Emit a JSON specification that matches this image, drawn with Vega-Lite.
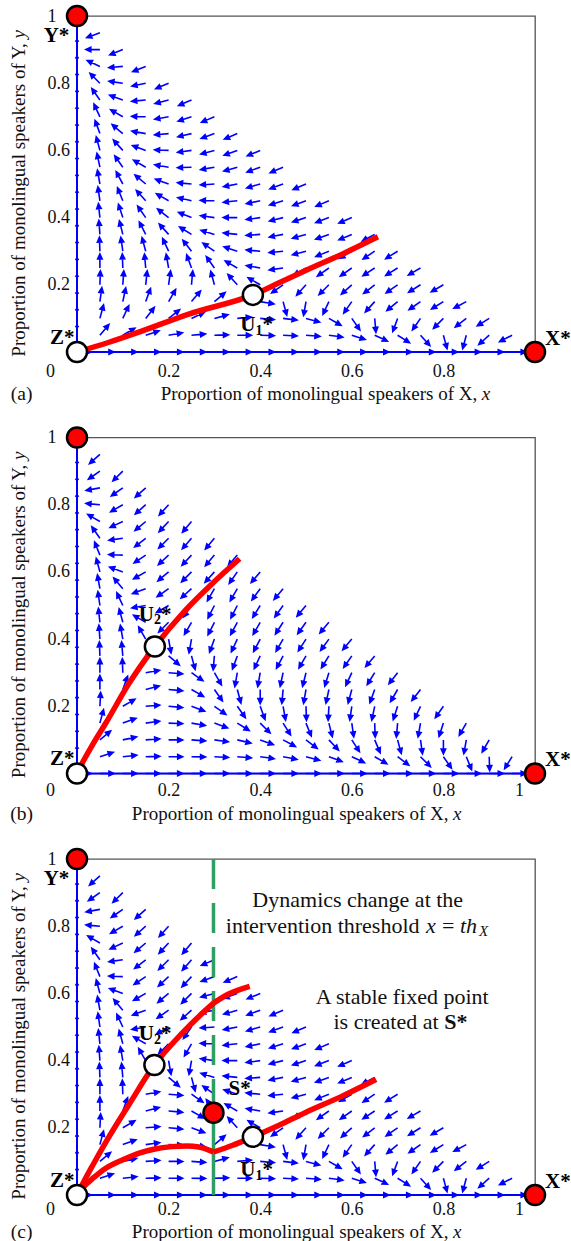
{
"$schema": "https://vega.github.io/schema/vega-lite/v6.json",
"padding": {"left": 9, "top": 0, "right": 5, "bottom": 5},
"autosize": {"type": "pad"},
"bounds": "flush",
"spacing": 85.5,
"config": {
  "view": {"stroke": "#555555", "strokeWidth": 1.3},
  "axis": {"domain": false, "ticks": false, "tickSize": 0, "grid": false, "format": ".1~f", "labelFont": "Liberation Serif", "labelFontSize": 18, "labelColor": "#111111", "labelOverlap": false, "labelFlush": false, "labelBound": false}
},
"datasets": {
"ax": [
{"x":0,"y":0,"a":90},{"x":0.05,"y":0,"a":90},{"x":0.1,"y":0,"a":90},{"x":0.15,"y":0,"a":90},{"x":0.2,"y":0,"a":90},{"x":0.25,"y":0,"a":90},{"x":0.3,"y":0,"a":90},{"x":0.35,"y":0,"a":90},{"x":0.4,"y":0,"a":90},{"x":0.45,"y":0,"a":90},{"x":0.5,"y":0,"a":90},{"x":0.55,"y":0,"a":90},{"x":0.6,"y":0,"a":90},{"x":0.65,"y":0,"a":90},{"x":0.7,"y":0,"a":90},{"x":0.75,"y":0,"a":90},{"x":0.8,"y":0,"a":90},{"x":0.85,"y":0,"a":90},{"x":0.9,"y":0,"a":90},{"x":0.95,"y":0,"a":90},
{"x":0,"y":0.05,"a":0},{"x":0,"y":0.1,"a":0},{"x":0,"y":0.15,"a":0},{"x":0,"y":0.2,"a":0},{"x":0,"y":0.25,"a":0},{"x":0,"y":0.3,"a":0},{"x":0,"y":0.35,"a":0},{"x":0,"y":0.4,"a":0},{"x":0,"y":0.45,"a":0},{"x":0,"y":0.5,"a":0},{"x":0,"y":0.55,"a":0},{"x":0,"y":0.6,"a":0},{"x":0,"y":0.65,"a":0},{"x":0,"y":0.7,"a":0},{"x":0,"y":0.75,"a":0},{"x":0,"y":0.8,"a":0},{"x":0,"y":0.85,"a":0},{"x":0,"y":0.9,"a":0},{"x":0,"y":0.95,"a":0}
],
"fa": [
{"x":0.05,"y":0.95,"a":250},
{"x":0.05,"y":0.9,"a":270},{"x":0.1,"y":0.9,"a":248},
{"x":0.05,"y":0.85,"a":295},{"x":0.1,"y":0.85,"a":265},{"x":0.15,"y":0.85,"a":248},
{"x":0.05,"y":0.8,"a":315},{"x":0.1,"y":0.8,"a":278},{"x":0.15,"y":0.8,"a":258},{"x":0.2,"y":0.8,"a":247},
{"x":0.05,"y":0.75,"a":325},{"x":0.1,"y":0.75,"a":290},{"x":0.15,"y":0.75,"a":265},{"x":0.2,"y":0.75,"a":255},{"x":0.25,"y":0.75,"a":247},
{"x":0.05,"y":0.7,"a":335},{"x":0.1,"y":0.7,"a":300},{"x":0.15,"y":0.7,"a":272},{"x":0.2,"y":0.7,"a":260},{"x":0.25,"y":0.7,"a":252},{"x":0.3,"y":0.7,"a":247},
{"x":0.05,"y":0.65,"a":340},{"x":0.1,"y":0.65,"a":310},{"x":0.15,"y":0.65,"a":280},{"x":0.2,"y":0.65,"a":265},{"x":0.25,"y":0.65,"a":257},{"x":0.3,"y":0.65,"a":250},{"x":0.35,"y":0.65,"a":247},
{"x":0.05,"y":0.6,"a":345},{"x":0.1,"y":0.6,"a":318},{"x":0.15,"y":0.6,"a":290},{"x":0.2,"y":0.6,"a":272},{"x":0.25,"y":0.6,"a":262},{"x":0.3,"y":0.6,"a":255},{"x":0.35,"y":0.6,"a":250},{"x":0.4,"y":0.6,"a":247},
{"x":0.05,"y":0.55,"a":348},{"x":0.1,"y":0.55,"a":325},{"x":0.15,"y":0.55,"a":300},{"x":0.2,"y":0.55,"a":280},{"x":0.25,"y":0.55,"a":268},{"x":0.3,"y":0.55,"a":260},{"x":0.35,"y":0.55,"a":254},{"x":0.4,"y":0.55,"a":250},{"x":0.45,"y":0.55,"a":247},
{"x":0.05,"y":0.5,"a":350},{"x":0.1,"y":0.5,"a":332},{"x":0.15,"y":0.5,"a":310},{"x":0.2,"y":0.5,"a":290},{"x":0.25,"y":0.5,"a":275},{"x":0.3,"y":0.5,"a":266},{"x":0.35,"y":0.5,"a":259},{"x":0.4,"y":0.5,"a":254},{"x":0.45,"y":0.5,"a":250},{"x":0.5,"y":0.5,"a":247},
{"x":0.05,"y":0.45,"a":352},{"x":0.1,"y":0.45,"a":338},{"x":0.15,"y":0.45,"a":318},{"x":0.2,"y":0.45,"a":300},{"x":0.25,"y":0.45,"a":283},{"x":0.3,"y":0.45,"a":272},{"x":0.35,"y":0.45,"a":264},{"x":0.4,"y":0.45,"a":258},{"x":0.45,"y":0.45,"a":253},{"x":0.5,"y":0.45,"a":250},{"x":0.55,"y":0.45,"a":247},
{"x":0.05,"y":0.4,"a":354},{"x":0.1,"y":0.4,"a":342},{"x":0.15,"y":0.4,"a":325},{"x":0.2,"y":0.4,"a":308},{"x":0.25,"y":0.4,"a":292},{"x":0.3,"y":0.4,"a":278},{"x":0.35,"y":0.4,"a":270},{"x":0.4,"y":0.4,"a":262},{"x":0.45,"y":0.4,"a":256},{"x":0.5,"y":0.4,"a":252},{"x":0.55,"y":0.4,"a":249},{"x":0.6,"y":0.4,"a":247},
{"x":0.05,"y":0.35,"a":356},{"x":0.1,"y":0.35,"a":346},{"x":0.15,"y":0.35,"a":333},{"x":0.2,"y":0.35,"a":318},{"x":0.25,"y":0.35,"a":302},{"x":0.3,"y":0.35,"a":287},{"x":0.35,"y":0.35,"a":276},{"x":0.4,"y":0.35,"a":266},{"x":0.45,"y":0.35,"a":259},{"x":0.5,"y":0.35,"a":254},{"x":0.55,"y":0.35,"a":250},{"x":0.6,"y":0.35,"a":247},{"x":0.65,"y":0.35,"a":242},
{"x":0.05,"y":0.3,"a":358},{"x":0.1,"y":0.3,"a":352},{"x":0.15,"y":0.3,"a":345},{"x":0.2,"y":0.3,"a":335},{"x":0.25,"y":0.3,"a":322},{"x":0.3,"y":0.3,"a":305},{"x":0.35,"y":0.3,"a":288},{"x":0.4,"y":0.3,"a":275},{"x":0.45,"y":0.3,"a":264},{"x":0.5,"y":0.3,"a":255},{"x":0.55,"y":0.3,"a":248},{"x":0.6,"y":0.3,"a":240},{"x":0.65,"y":0.3,"a":236},{"x":0.7,"y":0.3,"a":238},
{"x":0.05,"y":0.25,"a":0},{"x":0.1,"y":0.25,"a":358},{"x":0.15,"y":0.25,"a":355},{"x":0.2,"y":0.25,"a":350},{"x":0.25,"y":0.25,"a":340},{"x":0.3,"y":0.25,"a":325},{"x":0.35,"y":0.25,"a":300},{"x":0.4,"y":0.25,"a":280},{"x":0.45,"y":0.25,"a":262},{"x":0.5,"y":0.25,"a":240},{"x":0.55,"y":0.25,"a":235},{"x":0.6,"y":0.25,"a":235},{"x":0.65,"y":0.25,"a":237},{"x":0.7,"y":0.25,"a":238},{"x":0.75,"y":0.25,"a":240},
{"x":0.05,"y":0.2,"a":2},{"x":0.1,"y":0.2,"a":4},{"x":0.15,"y":0.2,"a":6},{"x":0.2,"y":0.2,"a":8},{"x":0.25,"y":0.2,"a":5},{"x":0.3,"y":0.2,"a":345},{"x":0.35,"y":0.2,"a":318},{"x":0.4,"y":0.2,"a":300},{"x":0.45,"y":0.2,"a":235},{"x":0.5,"y":0.2,"a":222},{"x":0.55,"y":0.2,"a":225},{"x":0.6,"y":0.2,"a":228},{"x":0.65,"y":0.2,"a":232},{"x":0.7,"y":0.2,"a":235},{"x":0.75,"y":0.2,"a":238},{"x":0.8,"y":0.2,"a":240},
{"x":0.05,"y":0.15,"a":8},{"x":0.1,"y":0.15,"a":12},{"x":0.15,"y":0.15,"a":20},{"x":0.2,"y":0.15,"a":30},{"x":0.25,"y":0.15,"a":40},{"x":0.3,"y":0.15,"a":50},{"x":0.35,"y":0.15,"a":62},{"x":0.4,"y":0.15,"a":100},{"x":0.45,"y":0.15,"a":165},{"x":0.5,"y":0.15,"a":190},{"x":0.55,"y":0.15,"a":205},{"x":0.6,"y":0.15,"a":215},{"x":0.65,"y":0.15,"a":222},{"x":0.7,"y":0.15,"a":230},{"x":0.75,"y":0.15,"a":235},{"x":0.8,"y":0.15,"a":238},{"x":0.85,"y":0.15,"a":242},
{"x":0.05,"y":0.1,"a":15},{"x":0.1,"y":0.1,"a":25},{"x":0.15,"y":0.1,"a":38},{"x":0.2,"y":0.1,"a":52},{"x":0.25,"y":0.1,"a":65},{"x":0.3,"y":0.1,"a":75},{"x":0.35,"y":0.1,"a":85},{"x":0.4,"y":0.1,"a":95},{"x":0.45,"y":0.1,"a":97},{"x":0.5,"y":0.1,"a":105},{"x":0.55,"y":0.1,"a":120},{"x":0.6,"y":0.1,"a":145},{"x":0.65,"y":0.1,"a":175},{"x":0.7,"y":0.1,"a":200},{"x":0.75,"y":0.1,"a":215},{"x":0.8,"y":0.1,"a":225},{"x":0.85,"y":0.1,"a":232},{"x":0.9,"y":0.1,"a":238},
{"x":0.05,"y":0.05,"a":40},{"x":0.1,"y":0.05,"a":60},{"x":0.15,"y":0.05,"a":72},{"x":0.2,"y":0.05,"a":80},{"x":0.25,"y":0.05,"a":85},{"x":0.3,"y":0.05,"a":88},{"x":0.35,"y":0.05,"a":90},{"x":0.4,"y":0.05,"a":92},{"x":0.45,"y":0.05,"a":93},{"x":0.5,"y":0.05,"a":95},{"x":0.55,"y":0.05,"a":98},{"x":0.6,"y":0.05,"a":108},{"x":0.65,"y":0.05,"a":115},{"x":0.7,"y":0.05,"a":122},{"x":0.75,"y":0.05,"a":138},{"x":0.8,"y":0.05,"a":165},{"x":0.85,"y":0.05,"a":195},{"x":0.9,"y":0.05,"a":228},{"x":0.95,"y":0.05,"a":243}
],
"fb": [
{"x":0.05,"y":0.95,"a":228},
{"x":0.05,"y":0.9,"a":235},{"x":0.1,"y":0.9,"a":225},
{"x":0.05,"y":0.85,"a":260},{"x":0.1,"y":0.85,"a":235},{"x":0.15,"y":0.85,"a":228},
{"x":0.05,"y":0.8,"a":275},{"x":0.1,"y":0.8,"a":240},{"x":0.15,"y":0.8,"a":228},{"x":0.2,"y":0.8,"a":222},
{"x":0.05,"y":0.75,"a":300},{"x":0.1,"y":0.75,"a":245},{"x":0.15,"y":0.75,"a":230},{"x":0.2,"y":0.75,"a":223},{"x":0.25,"y":0.75,"a":220},
{"x":0.05,"y":0.7,"a":325},{"x":0.1,"y":0.7,"a":262},{"x":0.15,"y":0.7,"a":232},{"x":0.2,"y":0.7,"a":225},{"x":0.25,"y":0.7,"a":221},{"x":0.3,"y":0.7,"a":220},
{"x":0.05,"y":0.65,"a":338},{"x":0.1,"y":0.65,"a":272},{"x":0.15,"y":0.65,"a":236},{"x":0.2,"y":0.65,"a":227},{"x":0.25,"y":0.65,"a":223},{"x":0.3,"y":0.65,"a":220},{"x":0.35,"y":0.65,"a":220},
{"x":0.05,"y":0.6,"a":345},{"x":0.1,"y":0.6,"a":290},{"x":0.15,"y":0.6,"a":240},{"x":0.2,"y":0.6,"a":230},{"x":0.25,"y":0.6,"a":225},{"x":0.3,"y":0.6,"a":222},{"x":0.35,"y":0.6,"a":215},{"x":0.4,"y":0.6,"a":220},
{"x":0.05,"y":0.55,"a":350},{"x":0.1,"y":0.55,"a":320},{"x":0.15,"y":0.55,"a":250},{"x":0.2,"y":0.55,"a":235},{"x":0.25,"y":0.55,"a":228},{"x":0.3,"y":0.55,"a":210},{"x":0.35,"y":0.55,"a":210},{"x":0.4,"y":0.55,"a":216},{"x":0.45,"y":0.55,"a":220},
{"x":0.05,"y":0.5,"a":352},{"x":0.1,"y":0.5,"a":335},{"x":0.15,"y":0.5,"a":260},{"x":0.2,"y":0.5,"a":240},{"x":0.25,"y":0.5,"a":215},{"x":0.3,"y":0.5,"a":207},{"x":0.35,"y":0.5,"a":207},{"x":0.4,"y":0.5,"a":212},{"x":0.45,"y":0.5,"a":216},{"x":0.5,"y":0.5,"a":220},
{"x":0.05,"y":0.45,"a":354},{"x":0.1,"y":0.45,"a":345},{"x":0.15,"y":0.45,"a":300},{"x":0.2,"y":0.45,"a":225},{"x":0.25,"y":0.45,"a":210},{"x":0.3,"y":0.45,"a":207},{"x":0.35,"y":0.45,"a":208},{"x":0.4,"y":0.45,"a":210},{"x":0.45,"y":0.45,"a":213},{"x":0.5,"y":0.45,"a":216},{"x":0.55,"y":0.45,"a":220},
{"x":0.05,"y":0.4,"a":356},{"x":0.1,"y":0.4,"a":350},{"x":0.15,"y":0.4,"a":330},{"x":0.2,"y":0.4,"a":170},{"x":0.25,"y":0.4,"a":190},{"x":0.3,"y":0.4,"a":200},{"x":0.35,"y":0.4,"a":205},{"x":0.4,"y":0.4,"a":208},{"x":0.45,"y":0.4,"a":210},{"x":0.5,"y":0.4,"a":213},{"x":0.55,"y":0.4,"a":216},{"x":0.6,"y":0.4,"a":220},
{"x":0.05,"y":0.35,"a":358},{"x":0.1,"y":0.35,"a":355},{"x":0.15,"y":0.35,"a":20},{"x":0.2,"y":0.35,"a":130},{"x":0.25,"y":0.35,"a":165},{"x":0.3,"y":0.35,"a":185},{"x":0.35,"y":0.35,"a":200},{"x":0.4,"y":0.35,"a":205},{"x":0.45,"y":0.35,"a":208},{"x":0.5,"y":0.35,"a":210},{"x":0.55,"y":0.35,"a":212},{"x":0.6,"y":0.35,"a":215},{"x":0.65,"y":0.35,"a":220},
{"x":0.05,"y":0.3,"a":0},{"x":0.1,"y":0.3,"a":358},{"x":0.15,"y":0.3,"a":80},{"x":0.2,"y":0.3,"a":95},{"x":0.25,"y":0.3,"a":125},{"x":0.3,"y":0.3,"a":150},{"x":0.35,"y":0.3,"a":190},{"x":0.4,"y":0.3,"a":190},{"x":0.45,"y":0.3,"a":192},{"x":0.5,"y":0.3,"a":194},{"x":0.55,"y":0.3,"a":197},{"x":0.6,"y":0.3,"a":205},{"x":0.65,"y":0.3,"a":212},{"x":0.7,"y":0.3,"a":218},
{"x":0.05,"y":0.25,"a":0},{"x":0.1,"y":0.25,"a":20},{"x":0.15,"y":0.25,"a":75},{"x":0.2,"y":0.25,"a":95},{"x":0.25,"y":0.25,"a":120},{"x":0.3,"y":0.25,"a":145},{"x":0.35,"y":0.25,"a":165},{"x":0.4,"y":0.25,"a":180},{"x":0.45,"y":0.25,"a":185},{"x":0.5,"y":0.25,"a":190},{"x":0.55,"y":0.25,"a":192},{"x":0.6,"y":0.25,"a":195},{"x":0.65,"y":0.25,"a":200},{"x":0.7,"y":0.25,"a":210},{"x":0.75,"y":0.25,"a":218},
{"x":0.05,"y":0.2,"a":3},{"x":0.1,"y":0.2,"a":60},{"x":0.15,"y":0.2,"a":85},{"x":0.2,"y":0.2,"a":95},{"x":0.25,"y":0.2,"a":110},{"x":0.3,"y":0.2,"a":125},{"x":0.35,"y":0.2,"a":145},{"x":0.4,"y":0.2,"a":160},{"x":0.45,"y":0.2,"a":170},{"x":0.5,"y":0.2,"a":178},{"x":0.55,"y":0.2,"a":183},{"x":0.6,"y":0.2,"a":188},{"x":0.65,"y":0.2,"a":192},{"x":0.7,"y":0.2,"a":198},{"x":0.75,"y":0.2,"a":205},{"x":0.8,"y":0.2,"a":215},
{"x":0.05,"y":0.15,"a":15},{"x":0.1,"y":0.15,"a":70},{"x":0.15,"y":0.15,"a":82},{"x":0.2,"y":0.15,"a":92},{"x":0.25,"y":0.15,"a":100},{"x":0.3,"y":0.15,"a":110},{"x":0.35,"y":0.15,"a":122},{"x":0.4,"y":0.15,"a":135},{"x":0.45,"y":0.15,"a":148},{"x":0.5,"y":0.15,"a":158},{"x":0.55,"y":0.15,"a":166},{"x":0.6,"y":0.15,"a":172},{"x":0.65,"y":0.15,"a":178},{"x":0.7,"y":0.15,"a":185},{"x":0.75,"y":0.15,"a":190},{"x":0.8,"y":0.15,"a":198},{"x":0.85,"y":0.15,"a":210},
{"x":0.05,"y":0.1,"a":50},{"x":0.1,"y":0.1,"a":78},{"x":0.15,"y":0.1,"a":86},{"x":0.2,"y":0.1,"a":90},{"x":0.25,"y":0.1,"a":94},{"x":0.3,"y":0.1,"a":98},{"x":0.35,"y":0.1,"a":103},{"x":0.4,"y":0.1,"a":110},{"x":0.45,"y":0.1,"a":118},{"x":0.5,"y":0.1,"a":127},{"x":0.55,"y":0.1,"a":137},{"x":0.6,"y":0.1,"a":147},{"x":0.65,"y":0.1,"a":157},{"x":0.7,"y":0.1,"a":165},{"x":0.75,"y":0.1,"a":172},{"x":0.8,"y":0.1,"a":180},{"x":0.85,"y":0.1,"a":190},{"x":0.9,"y":0.1,"a":210},
{"x":0.05,"y":0.05,"a":72},{"x":0.1,"y":0.05,"a":84},{"x":0.15,"y":0.05,"a":88},{"x":0.2,"y":0.05,"a":90},{"x":0.25,"y":0.05,"a":91},{"x":0.3,"y":0.05,"a":93},{"x":0.35,"y":0.05,"a":95},{"x":0.4,"y":0.05,"a":98},{"x":0.45,"y":0.05,"a":101},{"x":0.5,"y":0.05,"a":105},{"x":0.55,"y":0.05,"a":110},{"x":0.6,"y":0.05,"a":115},{"x":0.65,"y":0.05,"a":120},{"x":0.7,"y":0.05,"a":127},{"x":0.75,"y":0.05,"a":135},{"x":0.8,"y":0.05,"a":145},{"x":0.85,"y":0.05,"a":158},{"x":0.9,"y":0.05,"a":178},{"x":0.95,"y":0.05,"a":212}
],
"edges": [{"x":0,"y":0,"x2":1,"y2":0},{"x":0,"y":0,"x2":0,"y2":1}]
},
"vconcat": [
{
 "width": 458, "height": 336,
 "encoding": {
  "x": {"field": "x", "type": "quantitative", "scale": {"domain": [0, 1], "nice": false, "zero": false}, "axis": {"title": null, "values": [0, 0.2, 0.4, 0.6, 0.8], "labelPadding": 10, "labelOffset": {"condition": {"test": "datum.value == 0", "value": -27}, "value": 0}}},
  "y": {"field": "y", "type": "quantitative", "scale": {"domain": [0, 1], "nice": false, "zero": false}, "axis": {"title": null, "values": [0.2, 0.4, 0.6, 0.8, 1], "labelAlign": "left", "labelPadding": 30}}
 },
 "layer": [
  {"data": {"name": "ax"}, "transform": [{"filter": "datum.y == 0"}], "mark": {"type": "point", "shape": "M0,0L0,-1.4M-0.32,-1.3L0,-2L0.32,-1.3Z", "filled": true, "fill": "#0000ff", "stroke": "#0000ff", "strokeWidth": 1.6, "size": 196, "opacity": 1}, "encoding": {"angle": {"field": "a", "type": "quantitative", "scale": null}}},
  {"data": {"name": "ax"}, "transform": [{"filter": "datum.x == 0 && datum.y > 0"}], "mark": {"type": "point", "shape": "M0,0L0,-1.4M-0.3,-1.5L0,-2L0.3,-1.5Z", "filled": true, "fill": "#0000ff", "stroke": "#0000ff", "strokeWidth": 1, "size": 120, "opacity": 1}, "encoding": {"angle": {"field": "a", "type": "quantitative", "scale": null}}},
  {"data": {"name": "fa"}, "mark": {"type": "point", "shape": "M0,0L0,-1.4M-0.32,-1.3L0,-2L0.32,-1.3Z", "filled": true, "fill": "#0000ff", "stroke": "#0000ff", "strokeWidth": 1.6, "size": 196, "opacity": 1}, "encoding": {"angle": {"field": "a", "type": "quantitative", "scale": null}}},
  {"data": {"name": "edges"}, "mark": {"type": "rule", "color": "#0000ff", "strokeWidth": 2}, "encoding": {"x2": {"field": "x2"}, "y2": {"field": "y2"}}},
  {"data": {"values": [{"x":0,"y":0},{"x":0.07,"y":0.029},{"x":0.135,"y":0.059},{"x":0.244,"y":0.113},{"x":0.384,"y":0.17},{"x":0.44,"y":0.205},{"x":0.498,"y":0.242},{"x":0.58,"y":0.292},{"x":0.657,"y":0.343}]}, "mark": {"type": "line", "color": "#ff0000", "strokeWidth": 5.5, "strokeCap": "butt", "interpolate": "monotone"}},
  {"data": {"values": [{"x":0,"y":1},{"x":1,"y":0}]}, "mark": {"type": "point", "shape": "circle", "filled": true, "fill": "#ff0000", "stroke": "#000000", "strokeWidth": 2.5, "size": 400, "opacity": 1}},
  {"data": {"values": [{"x":0,"y":0},{"x":0.384,"y":0.17}]}, "mark": {"type": "point", "shape": "circle", "filled": true, "fill": "#ffffff", "stroke": "#000000", "strokeWidth": 2.5, "size": 400, "opacity": 1}},
  {"data": {"values": [{"x":-0.0727,"y":0.94,"t":"Y*"},{"x":-0.059,"y":0.043,"t":"Z*"},{"x":1.0218,"y":0.04,"t":"X*"},{"x":0.3566,"y":0.079,"t":"U"},{"x":0.405,"y":0.079,"t":"*"}]}, "mark": {"type": "text", "font": "Liberation Serif", "fontSize": 21, "fontWeight": "bold", "align": "left", "baseline": "middle", "color": "#000000"}, "encoding": {"text": {"field": "t"}}},
  {"data": {"values": [{"x":0.3897,"y":0.062,"t":"1"}]}, "mark": {"type": "text", "font": "Liberation Serif", "fontSize": 14, "fontWeight": "bold", "align": "left", "baseline": "middle", "color": "#000000"}, "encoding": {"text": {"field": "t"}}},
  {"data": {"values": [{"x":0.874,"y":-0.125,"t":"Proportion of monolingual speakers of X,"}]}, "mark": {"type": "text", "font": "Liberation Serif", "fontSize": 19, "align": "right", "baseline": "middle", "color": "#111111"}, "encoding": {"text": {"field": "t"}}},
  {"data": {"values": [{"x":0.884,"y":-0.125,"t":"x"}]}, "mark": {"type": "text", "font": "Liberation Serif", "fontSize": 19, "fontStyle": "italic", "align": "left", "baseline": "middle", "color": "#111111"}, "encoding": {"text": {"field": "t"}}},
  {"data": {"values": [{"x":-0.121,"y":-0.125,"t":"(a)"}]}, "mark": {"type": "text", "font": "Liberation Serif", "fontSize": 19.5, "align": "center", "baseline": "middle", "color": "#111111"}, "encoding": {"text": {"field": "t"}}},
  {"data": {"values": [{"x":-0.127,"y":0.919,"t":"Proportion of monolingual speakers of Y,"}]}, "mark": {"type": "text", "font": "Liberation Serif", "fontSize": 19, "angle": 270, "align": "right", "baseline": "middle", "color": "#111111"}, "encoding": {"text": {"field": "t"}}},
  {"data": {"values": [{"x":-0.127,"y":0.933,"t":"y"}]}, "mark": {"type": "text", "font": "Liberation Serif", "fontSize": 19, "fontStyle": "italic", "angle": 270, "align": "left", "baseline": "middle", "color": "#111111"}, "encoding": {"text": {"field": "t"}}}
 ]
},
{
 "width": 458, "height": 336,
 "encoding": {
  "x": {"field": "x", "type": "quantitative", "scale": {"domain": [0, 1], "nice": false, "zero": false}, "axis": {"title": null, "values": [0, 0.2, 0.4, 0.6, 0.8, 1], "labelPadding": 8, "labelOffset": {"condition": [{"test": "datum.value == 0", "value": -27}, {"test": "datum.value == 1", "value": -16}], "value": 0}}},
  "y": {"field": "y", "type": "quantitative", "scale": {"domain": [0, 1], "nice": false, "zero": false}, "axis": {"title": null, "values": [0.2, 0.4, 0.6, 0.8, 1], "labelAlign": "left", "labelPadding": 30}}
 },
 "layer": [
  {"data": {"name": "ax"}, "transform": [{"filter": "datum.y == 0"}], "mark": {"type": "point", "shape": "M0,0L0,-1.4M-0.32,-1.3L0,-2L0.32,-1.3Z", "filled": true, "fill": "#0000ff", "stroke": "#0000ff", "strokeWidth": 1.6, "size": 196, "opacity": 1}, "encoding": {"angle": {"field": "a", "type": "quantitative", "scale": null}}},
  {"data": {"name": "ax"}, "transform": [{"filter": "datum.x == 0 && datum.y > 0"}], "mark": {"type": "point", "shape": "M0,0L0,-1.4M-0.3,-1.5L0,-2L0.3,-1.5Z", "filled": true, "fill": "#0000ff", "stroke": "#0000ff", "strokeWidth": 1, "size": 120, "opacity": 1}, "encoding": {"angle": {"field": "a", "type": "quantitative", "scale": null}}},
  {"data": {"name": "fb"}, "mark": {"type": "point", "shape": "M0,0L0,-1.4M-0.32,-1.3L0,-2L0.32,-1.3Z", "filled": true, "fill": "#0000ff", "stroke": "#0000ff", "strokeWidth": 1.6, "size": 196, "opacity": 1}, "encoding": {"angle": {"field": "a", "type": "quantitative", "scale": null}}},
  {"data": {"name": "edges"}, "mark": {"type": "rule", "color": "#0000ff", "strokeWidth": 2}, "encoding": {"x2": {"field": "x2"}, "y2": {"field": "y2"}}},
  {"data": {"values": [{"x":0,"y":0},{"x":0.015,"y":0.04},{"x":0.035,"y":0.088},{"x":0.062,"y":0.148},{"x":0.113,"y":0.267},{"x":0.17,"y":0.378},{"x":0.236,"y":0.485},{"x":0.295,"y":0.565},{"x":0.355,"y":0.639}]}, "mark": {"type": "line", "color": "#ff0000", "strokeWidth": 5.5, "strokeCap": "butt", "interpolate": "monotone"}},
  {"data": {"values": [{"x":0,"y":1},{"x":1,"y":0}]}, "mark": {"type": "point", "shape": "circle", "filled": true, "fill": "#ff0000", "stroke": "#000000", "strokeWidth": 2.5, "size": 400, "opacity": 1}},
  {"data": {"values": [{"x":0,"y":0},{"x":0.17,"y":0.378}]}, "mark": {"type": "point", "shape": "circle", "filled": true, "fill": "#ffffff", "stroke": "#000000", "strokeWidth": 2.5, "size": 400, "opacity": 1}},
  {"data": {"values": [{"x":-0.059,"y":0.043,"t":"Z*"},{"x":1.0218,"y":0.04,"t":"X*"},{"x":0.1347,"y":0.473,"t":"U"},{"x":0.1832,"y":0.473,"t":"*"}]}, "mark": {"type": "text", "font": "Liberation Serif", "fontSize": 21, "fontWeight": "bold", "align": "left", "baseline": "middle", "color": "#000000"}, "encoding": {"text": {"field": "t"}}},
  {"data": {"values": [{"x":0.168,"y":0.456,"t":"2"}]}, "mark": {"type": "text", "font": "Liberation Serif", "fontSize": 14, "fontWeight": "bold", "align": "left", "baseline": "middle", "color": "#000000"}, "encoding": {"text": {"field": "t"}}},
  {"data": {"values": [{"x":0.811,"y":-0.12,"t":"Proportion of monolingual speakers of X,"}]}, "mark": {"type": "text", "font": "Liberation Serif", "fontSize": 19, "align": "right", "baseline": "middle", "color": "#111111"}, "encoding": {"text": {"field": "t"}}},
  {"data": {"values": [{"x":0.821,"y":-0.12,"t":"x"}]}, "mark": {"type": "text", "font": "Liberation Serif", "fontSize": 19, "fontStyle": "italic", "align": "left", "baseline": "middle", "color": "#111111"}, "encoding": {"text": {"field": "t"}}},
  {"data": {"values": [{"x":-0.121,"y":-0.12,"t":"(b)"}]}, "mark": {"type": "text", "font": "Liberation Serif", "fontSize": 19.5, "align": "center", "baseline": "middle", "color": "#111111"}, "encoding": {"text": {"field": "t"}}},
  {"data": {"values": [{"x":-0.127,"y":0.919,"t":"Proportion of monolingual speakers of Y,"}]}, "mark": {"type": "text", "font": "Liberation Serif", "fontSize": 19, "angle": 270, "align": "right", "baseline": "middle", "color": "#111111"}, "encoding": {"text": {"field": "t"}}},
  {"data": {"values": [{"x":-0.127,"y":0.933,"t":"y"}]}, "mark": {"type": "text", "font": "Liberation Serif", "fontSize": 19, "fontStyle": "italic", "angle": 270, "align": "left", "baseline": "middle", "color": "#111111"}, "encoding": {"text": {"field": "t"}}}
 ]
},
{
 "width": 458, "height": 336,
 "encoding": {
  "x": {"field": "x", "type": "quantitative", "scale": {"domain": [0, 1], "nice": false, "zero": false}, "axis": {"title": null, "values": [0, 0.2, 0.4, 0.6, 0.8, 1], "labelPadding": 5, "labelOffset": {"condition": [{"test": "datum.value == 0", "value": -27}, {"test": "datum.value == 1", "value": -16}], "value": 0}}},
  "y": {"field": "y", "type": "quantitative", "scale": {"domain": [0, 1], "nice": false, "zero": false}, "axis": {"title": null, "values": [0.2, 0.4, 0.6, 0.8, 1], "labelAlign": "left", "labelPadding": 30}}
 },
 "layer": [
  {"data": {"name": "ax"}, "transform": [{"filter": "datum.y == 0"}], "mark": {"type": "point", "shape": "M0,0L0,-1.4M-0.32,-1.3L0,-2L0.32,-1.3Z", "filled": true, "fill": "#0000ff", "stroke": "#0000ff", "strokeWidth": 1.6, "size": 196, "opacity": 1}, "encoding": {"angle": {"field": "a", "type": "quantitative", "scale": null}}},
  {"data": {"name": "ax"}, "transform": [{"filter": "datum.x == 0 && datum.y > 0"}], "mark": {"type": "point", "shape": "M0,0L0,-1.4M-0.3,-1.5L0,-2L0.3,-1.5Z", "filled": true, "fill": "#0000ff", "stroke": "#0000ff", "strokeWidth": 1, "size": 120, "opacity": 1}, "encoding": {"angle": {"field": "a", "type": "quantitative", "scale": null}}},
  {"data": {"name": "fb"}, "transform": [{"filter": "datum.x < 0.29"}], "mark": {"type": "point", "shape": "M0,0L0,-1.4M-0.32,-1.3L0,-2L0.32,-1.3Z", "filled": true, "fill": "#0000ff", "stroke": "#0000ff", "strokeWidth": 1.6, "size": 196, "opacity": 1}, "encoding": {"angle": {"field": "a", "type": "quantitative", "scale": null}}},
  {"data": {"name": "fa"}, "transform": [{"filter": "datum.x > 0.29"}], "mark": {"type": "point", "shape": "M0,0L0,-1.4M-0.32,-1.3L0,-2L0.32,-1.3Z", "filled": true, "fill": "#0000ff", "stroke": "#0000ff", "strokeWidth": 1.6, "size": 196, "opacity": 1}, "encoding": {"angle": {"field": "a", "type": "quantitative", "scale": null}}},
  {"data": {"name": "edges"}, "mark": {"type": "rule", "color": "#0000ff", "strokeWidth": 2}, "encoding": {"x2": {"field": "x2"}, "y2": {"field": "y2"}}},
  {"data": {"values": [{"x":0.298,"y":1,"x2":0.298,"y2":0.245}]}, "mark": {"type": "rule", "color": "#2e9e62", "strokeWidth": 3.5, "strokeDash": [30, 14]}, "encoding": {"x2": {"field": "x2"}, "y2": {"field": "y2"}}},
  {"data": {"values": [{"x":0.298,"y":0.245,"x2":0.298,"y2":0}]}, "mark": {"type": "rule", "color": "#2e9e62", "strokeWidth": 3.5}, "encoding": {"x2": {"field": "x2"}, "y2": {"field": "y2"}}},
  {"data": {"values": [{"x":0,"y":0,"c":"u1"},{"x":0.015,"y":0.04,"c":"u1"},{"x":0.035,"y":0.09,"c":"u1"},{"x":0.062,"y":0.155,"c":"u1"},{"x":0.113,"y":0.268,"c":"u1"},{"x":0.169,"y":0.387,"c":"u1"},{"x":0.229,"y":0.481,"c":"u1"},{"x":0.265,"y":0.53,"c":"u1"},{"x":0.298,"y":0.571,"c":"u1"},
    {"x":0.298,"y":0.571,"c":"u2"},{"x":0.331,"y":0.598,"c":"u2"},{"x":0.377,"y":0.621,"c":"u2"},
    {"x":0,"y":0,"c":"l1"},{"x":0.015,"y":0.025,"c":"l1"},{"x":0.035,"y":0.05,"c":"l1"},{"x":0.062,"y":0.079,"c":"l1"},{"x":0.1,"y":0.105,"c":"l1"},{"x":0.134,"y":0.124,"c":"l1"},{"x":0.17,"y":0.137,"c":"l1"},{"x":0.207,"y":0.144,"c":"l1"},{"x":0.24,"y":0.146,"c":"l1"},{"x":0.266,"y":0.143,"c":"l1"},{"x":0.298,"y":0.128,"c":"l1"},
    {"x":0.298,"y":0.128,"c":"l2"},{"x":0.34,"y":0.148,"c":"l2"},{"x":0.384,"y":0.173,"c":"l2"},{"x":0.44,"y":0.207,"c":"l2"},{"x":0.498,"y":0.245,"c":"l2"},{"x":0.58,"y":0.295,"c":"l2"},{"x":0.653,"y":0.344,"c":"l2"}]}, "mark": {"type": "line", "color": "#ff0000", "strokeWidth": 5.5, "strokeCap": "butt", "interpolate": "monotone"}, "encoding": {"detail": {"field": "c"}}},
  {"data": {"values": [{"x":0,"y":1},{"x":1,"y":0},{"x":0.298,"y":0.245}]}, "mark": {"type": "point", "shape": "circle", "filled": true, "fill": "#ff0000", "stroke": "#000000", "strokeWidth": 2.5, "size": 400, "opacity": 1}},
  {"data": {"values": [{"x":0,"y":0},{"x":0.169,"y":0.387},{"x":0.384,"y":0.173}]}, "mark": {"type": "point", "shape": "circle", "filled": true, "fill": "#ffffff", "stroke": "#000000", "strokeWidth": 2.5, "size": 400, "opacity": 1}},
  {"data": {"values": [{"x":-0.0727,"y":0.94,"t":"Y*"},{"x":-0.059,"y":0.043,"t":"Z*"},{"x":1.0218,"y":0.04,"t":"X*"},{"x":0.1347,"y":0.478,"t":"U"},{"x":0.1832,"y":0.478,"t":"*"},{"x":0.3566,"y":0.074,"t":"U"},{"x":0.405,"y":0.074,"t":"*"},{"x":0.331,"y":0.314,"t":"S*"}]}, "mark": {"type": "text", "font": "Liberation Serif", "fontSize": 21, "fontWeight": "bold", "align": "left", "baseline": "middle", "color": "#000000"}, "encoding": {"text": {"field": "t"}}},
  {"data": {"values": [{"x":0.168,"y":0.461,"t":"2"},{"x":0.3897,"y":0.057,"t":"1"}]}, "mark": {"type": "text", "font": "Liberation Serif", "fontSize": 14, "fontWeight": "bold", "align": "left", "baseline": "middle", "color": "#000000"}, "encoding": {"text": {"field": "t"}}},
  {"data": {"values": [{"x":0.3829,"y":0.877,"t":"Dynamics change at the"},{"x":0.325,"y":0.801,"t":"intervention threshold"},{"x":0.797,"y":0.801,"t":"="},{"x":0.5214,"y":0.589,"t":"A stable fixed point"},{"x":0.56,"y":0.515,"t":"is created at"}]}, "mark": {"type": "text", "font": "Liberation Serif", "fontSize": 22, "align": "left", "baseline": "middle", "color": "#111111"}, "encoding": {"text": {"field": "t"}}},
  {"data": {"values": [{"x":0.762,"y":0.801,"t":"x"},{"x":0.836,"y":0.801,"t":"th"}]}, "mark": {"type": "text", "font": "Liberation Serif", "fontSize": 22, "fontStyle": "italic", "align": "left", "baseline": "middle", "color": "#111111"}, "encoding": {"text": {"field": "t"}}},
  {"data": {"values": [{"x":0.878,"y":0.786,"t":"X"}]}, "mark": {"type": "text", "font": "Liberation Serif", "fontSize": 15, "fontStyle": "italic", "align": "left", "baseline": "middle", "color": "#111111"}, "encoding": {"text": {"field": "t"}}},
  {"data": {"values": [{"x":0.802,"y":0.515,"t":"S*"}]}, "mark": {"type": "text", "font": "Liberation Serif", "fontSize": 22, "fontWeight": "bold", "align": "left", "baseline": "middle", "color": "#111111"}, "encoding": {"text": {"field": "t"}}},
  {"data": {"values": [{"x":0.811,"y":-0.11,"t":"Proportion of monolingual speakers of X,"}]}, "mark": {"type": "text", "font": "Liberation Serif", "fontSize": 19, "align": "right", "baseline": "middle", "color": "#111111"}, "encoding": {"text": {"field": "t"}}},
  {"data": {"values": [{"x":0.821,"y":-0.11,"t":"x"}]}, "mark": {"type": "text", "font": "Liberation Serif", "fontSize": 19, "fontStyle": "italic", "align": "left", "baseline": "middle", "color": "#111111"}, "encoding": {"text": {"field": "t"}}},
  {"data": {"values": [{"x":-0.121,"y":-0.11,"t":"(c)"}]}, "mark": {"type": "text", "font": "Liberation Serif", "fontSize": 19.5, "align": "center", "baseline": "middle", "color": "#111111"}, "encoding": {"text": {"field": "t"}}},
  {"data": {"values": [{"x":-0.127,"y":0.919,"t":"Proportion of monolingual speakers of Y,"}]}, "mark": {"type": "text", "font": "Liberation Serif", "fontSize": 19, "angle": 270, "align": "right", "baseline": "middle", "color": "#111111"}, "encoding": {"text": {"field": "t"}}},
  {"data": {"values": [{"x":-0.127,"y":0.933,"t":"y"}]}, "mark": {"type": "text", "font": "Liberation Serif", "fontSize": 19, "fontStyle": "italic", "angle": 270, "align": "left", "baseline": "middle", "color": "#111111"}, "encoding": {"text": {"field": "t"}}}
 ]
}
]
}
